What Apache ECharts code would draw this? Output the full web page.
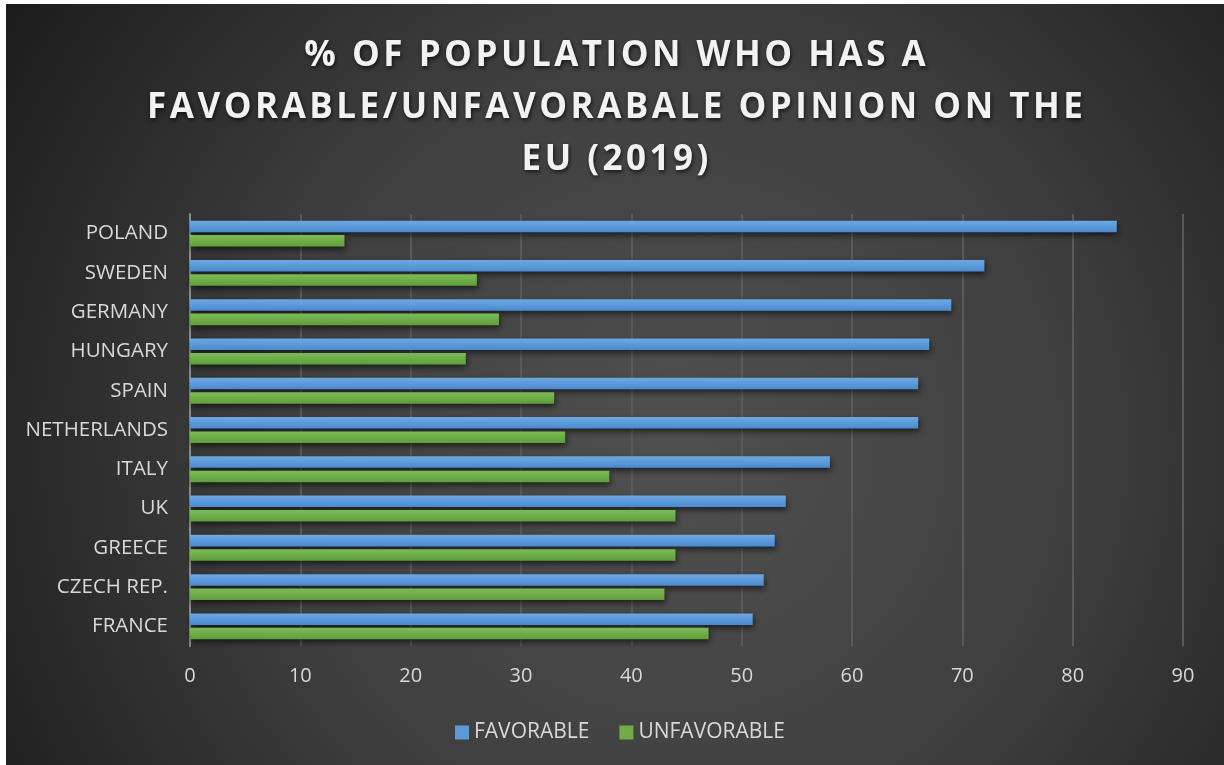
<!DOCTYPE html>
<html>
<head>
<meta charset="utf-8">
<script src="https://cdn.jsdelivr.net/npm/echarts@6/dist/echarts.min.js"></script>
<style>
  html, body { margin: 0; padding: 0; background: #ffffff; }
  #chart { position: absolute; left: 6px; top: 4px; width: 1218px; height: 761px; }
</style>
</head>
<body>
<div id="chart"></div>
<script>
// data
var countries = ['POLAND', 'SWEDEN', 'GERMANY', 'HUNGARY', 'SPAIN', 'NETHERLANDS', 'ITALY', 'UK', 'GREECE', 'CZECH REP.', 'FRANCE'];
var favorable = [84, 72, 69, 67, 66, 66, 58, 54, 53, 52, 51];
var unfavorable = [14, 26, 28, 25, 33, 34, 38, 44, 44, 43, 47];
var titleLines = ['% OF POPULATION WHO HAS A', 'FAVORABLE/UNFAVORABALE OPINION ON THE', 'EU (2019)'];

// the title is letter-spaced, hair spaces between the letters do it
function spaced(s) {
  return s.split('').join('\u200A');
}

var chart = echarts.init(document.getElementById('chart'));

var barShadow = {
  shadowColor: 'rgba(0, 0, 0, 0.6)',
  shadowBlur: 6,
  shadowOffsetY: 3,
  shadowOffsetX: 1
};

var option = {
  backgroundColor: new echarts.graphic.RadialGradient(0.55, 0.58, 1.05, [
    { offset: 0, color: '#505050' },
    { offset: 0.5, color: '#3f3f3f' },
    { offset: 1, color: '#1c1c1c' }
  ]),
  animation: false,
  title: {
    text: titleLines.map(spaced).join('\n'),
    left: 'center',
    top: 21,
    textStyle: {
      fontFamily: 'Open Sans',
      fontWeight: 'bold',
      fontSize: 35,
      lineHeight: 52,
      color: '#f2f2f2',
      textShadowColor: 'rgba(0, 0, 0, 0.7)',
      textShadowBlur: 4,
      textShadowOffsetX: 1,
      textShadowOffsetY: 2
    }
  },
  legend: {
    left: 449,
    top: 718,
    padding: 0,
    icon: 'rect',
    itemWidth: 14,
    itemHeight: 14,
    itemGap: 30,
    textStyle: { color: '#d9d9d9', fontSize: 21, fontFamily: 'Open Sans' }
  },
  grid: { left: 184, right: 41, top: 210, bottom: 119, containLabel: false },
  xAxis: {
    type: 'value',
    min: 0,
    max: 90,
    interval: 10,
    axisLine: { show: false },
    axisTick: { show: false },
    splitLine: { lineStyle: { color: '#5a5a5a', width: 2 } },
    axisLabel: { color: '#d9d9d9', fontSize: 20, fontFamily: 'Open Sans', margin: 20 }
  },
  yAxis: {
    type: 'category',
    data: countries,
    inverse: true,
    axisLine: { show: true, lineStyle: { color: '#8c8c8c', width: 2 } },
    axisTick: { show: false },
    axisLabel: { color: '#d9d9d9', fontSize: 20.5, fontFamily: 'Open Sans', margin: 22 }
  },
  series: [
    {
      name: 'FAVORABLE',
      type: 'bar',
      data: favorable,
      barGap: '25%',
      barCategoryGap: '34%',
      itemStyle: Object.assign({
        color: new echarts.graphic.LinearGradient(0, 0, 0, 1, [
          { offset: 0, color: '#6da8e2' },
          { offset: 1, color: '#4a8bd0' }
        ])
      }, barShadow)
    },
    {
      name: 'UNFAVORABLE',
      type: 'bar',
      data: unfavorable,
      itemStyle: Object.assign({
        color: new echarts.graphic.LinearGradient(0, 0, 0, 1, [
          { offset: 0, color: '#7dbb58' },
          { offset: 1, color: '#5f9f38' }
        ])
      }, barShadow)
    }
  ]
};

option.legend.data = [
  { name: 'FAVORABLE', itemStyle: { color: '#5b9bd5', shadowBlur: 0, shadowOffsetX: 0, shadowOffsetY: 0 } },
  { name: 'UNFAVORABLE', itemStyle: { color: '#70ad47', shadowBlur: 0, shadowOffsetX: 0, shadowOffsetY: 0 } }
];

chart.setOption(option);
</script>
</body>
</html>
